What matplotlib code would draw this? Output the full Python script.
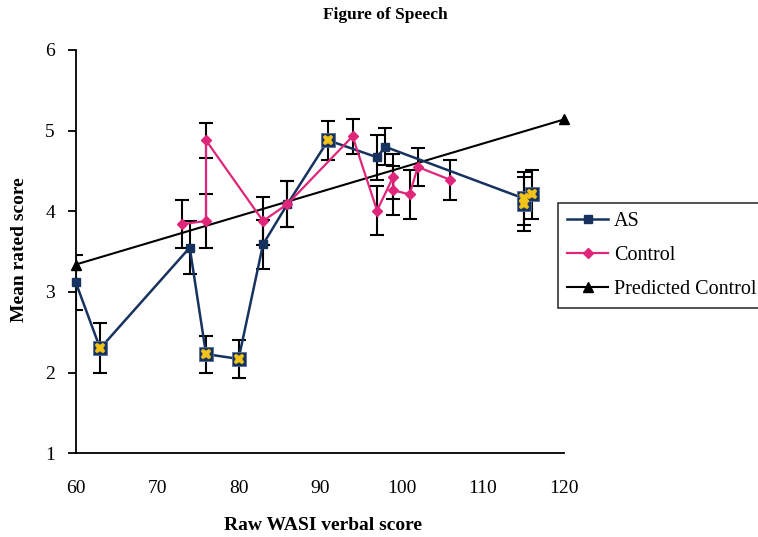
import matplotlib
matplotlib.use("Agg")
import matplotlib.pyplot as plt
from matplotlib.lines import Line2D

plt.rcParams['font.family'] = ['Liberation Serif', 'DejaVu Serif']

# AS series (connected)
as_x = [60, 63, 74, 76, 80, 83, 86, 91, 97, 98, 115]
as_y = [3.12, 2.30, 3.55, 2.23, 2.17, 3.59, 4.09, 4.88, 4.67, 4.80, 4.16]
as_err = [0.34, 0.31, 0.33, 0.23, 0.24, 0.30, 0.29, 0.24, 0.28, 0.23, 0.33]
# extra AS points (unconnected)
as2_x = [115, 116]
as2_y = [4.09, 4.21]
as2_err = [0.33, 0.30]
# highlighted AS points (yellow cross)
hl_x = [63, 76, 80, 91, 115, 115, 116]
hl_y = [2.30, 2.23, 2.17, 4.88, 4.16, 4.09, 4.21]

# Control series
ct_x = [73, 76, 76, 83, 86, 94, 97, 99, 99, 101, 102, 106]
ct_y = [3.84, 3.88, 4.88, 3.88, 4.09, 4.93, 4.01, 4.43, 4.26, 4.21, 4.55, 4.39]
ct_err = [0.30, 0.34, 0.22, 0.30, 0.29, 0.22, 0.30, 0.28, 0.30, 0.30, 0.24, 0.25]

# Predicted control
pc_x = [60, 120]
pc_y = [3.34, 5.14]

navy = '#17325f'
pink = '#e0267a'
yellow = '#f2c318'

fig = plt.figure(figsize=(7.58, 5.37), dpi=100)
ax = fig.add_axes([0.0999, 0.1559, 0.6446, 0.751])

ekw = dict(fmt='none', ecolor='black', elinewidth=1.5, capsize=4.7, capthick=1.5, zorder=2)
ax.errorbar(as_x, as_y, yerr=as_err, **ekw)
ax.errorbar(as2_x, as2_y, yerr=as2_err, **ekw)
ax.errorbar(ct_x, ct_y, yerr=ct_err, **ekw)

ax.plot(pc_x, pc_y, color='black', lw=1.5, marker='^', ms=7, zorder=3, clip_on=False)
ax.plot(as_x, as_y, color=navy, lw=1.8, marker='s', ms=6, zorder=4, clip_on=False)
ax.plot(ct_x, ct_y, color=pink, lw=1.6, marker='D', ms=5, zorder=5, clip_on=False)
ax.plot(hl_x, hl_y, ls='none', marker='s', ms=9.5, mfc=navy, mec='#5a6f99', mew=0.6, zorder=6)
ax.plot(hl_x, hl_y, ls='none', marker='X', ms=7.5, mfc=yellow, mec=yellow, mew=0.3, zorder=7)

ax.set_xlim(60, 120)
ax.set_ylim(1, 6)
ax.set_xticks([60, 70, 80, 90, 100, 110, 120])
ax.set_yticks([1, 2, 3, 4, 5, 6])
for s in ['top', 'right']:
    ax.spines[s].set_visible(False)
for s in ['left', 'bottom']:
    ax.spines[s].set_linewidth(1.3)
ax.tick_params(axis='x', length=0, pad=19, labelsize=14)
ax.tick_params(axis='y', length=6, width=1.3, pad=9, labelsize=14, direction='out')

fig.text(385/758, 1 - 15/537, 'Figure of Speech', ha='center', va='center',
         fontsize=12.5, fontweight='bold')
fig.text(323/758, 1 - 525/537, 'Raw WASI verbal score', ha='center', va='center',
         fontsize=14, fontweight='bold')
fig.text(20/758, 1 - 250/537, 'Mean rated score', ha='center', va='center',
         rotation=90, fontsize=14, fontweight='bold')

handles = [
    Line2D([], [], color=navy, lw=1.8, marker='s', ms=6),
    Line2D([], [], color=pink, lw=1.6, marker='D', ms=5),
    Line2D([], [], color='black', lw=1.5, marker='^', ms=7),
]
leg = fig.legend(handles, ['AS', 'Control', 'Predicted Control'],
                 loc='upper left', bbox_to_anchor=(558.3/758, 1 - 202.7/537),
                 fontsize=14.5, frameon=True, fancybox=False, edgecolor='black',
                 handlelength=2.0, handletextpad=0.3, labelspacing=0.75,
                 borderpad=0.45, borderaxespad=0)
leg.get_frame().set_linewidth(1.2)

fig.savefig('out.png', dpi=100)
